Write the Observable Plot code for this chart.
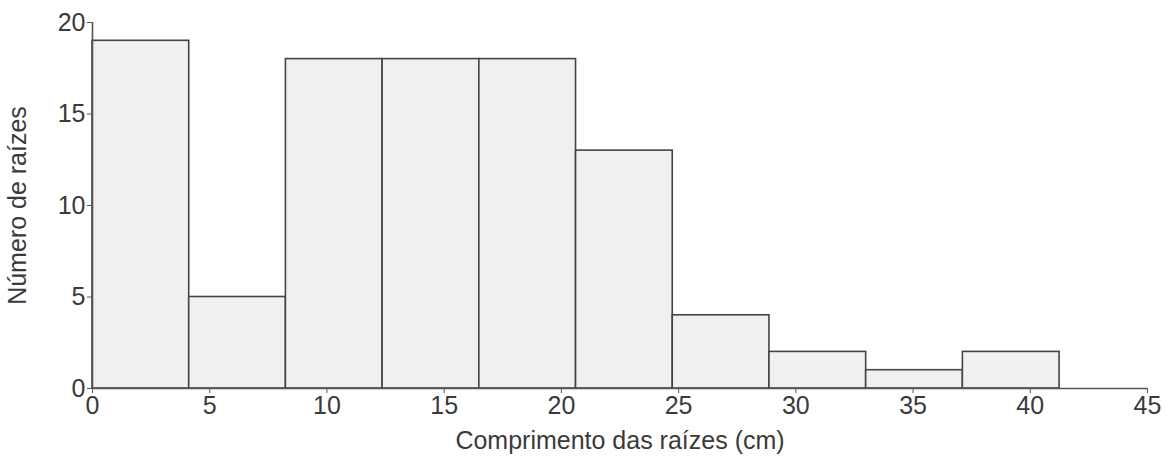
<!DOCTYPE html>
<html>
<head>
<meta charset="utf-8">
<script src="https://cdn.jsdelivr.net/npm/d3@7"></script>
<script src="https://cdn.jsdelivr.net/npm/@observablehq/plot@0.6"></script>
<style>
  html, body { margin: 0; padding: 0; background: #fff; }
</style>
</head>
<body>
<div id="chart"></div>
<script>
// Histogram of root lengths: bin edges (cm) and counts per bin
const binStart = [0, 4.125, 8.25, 12.375, 16.5, 20.625, 24.75, 28.875, 33, 37.125];
const binEnd   = [4.125, 8.25, 12.375, 16.5, 20.625, 24.75, 28.875, 33, 37.125, 41.25];
const counts   = [19, 5, 18, 18, 18, 13, 4, 2, 1, 2];

const xTicks = [0, 5, 10, 15, 20, 25, 30, 35, 40, 45];
const yTicks = [0, 5, 10, 15, 20];

const bins = counts.map((c, i) => ({x1: binStart[i], x2: binEnd[i], count: c}));

const axisColor = "#555";
const textColor = "#3a3a3a";

const chart = Plot.plot({
  width: 1167,
  height: 464,
  marginLeft: 92,
  marginRight: 20,
  marginTop: 22,
  marginBottom: 76,
  style: {fontFamily: "'Liberation Sans', Arial, sans-serif", fontSize: "25px", color: textColor, background: "#fff"},
  x: {domain: [0, 45]},
  y: {domain: [0, 20]},
  marks: [
    Plot.rectY(bins, {x1: "x1", x2: "x2", y: "count", fill: "#f0f0f0", stroke: "#444", strokeWidth: 1.6}),
    Plot.ruleX([0], {y1: 0, y2: 20, stroke: axisColor, strokeWidth: 1.6}),
    Plot.ruleY([0], {x1: 0, x2: 45, stroke: axisColor, strokeWidth: 1.6}),
    Plot.axisY({
      ticks: yTicks, tickSize: 5, tickPadding: 2, stroke: axisColor, fill: textColor,
      label: "Número de raízes", labelAnchor: "center", labelArrow: "none", labelOffset: 84
    }),
    Plot.axisX({
      ticks: xTicks, tickSize: 5, tickPadding: 3, stroke: axisColor, fill: textColor,
      label: "Comprimento das raízes (cm)", labelAnchor: "center", labelArrow: "none", labelOffset: 60
    })
  ]
});

document.getElementById("chart").appendChild(chart);
</script>
</body>
</html>
